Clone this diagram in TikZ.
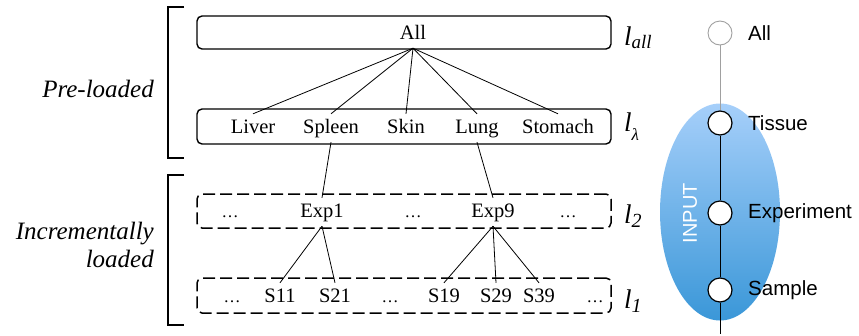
\documentclass[tikz,border=0pt]{standalone}
\usepackage{fontspec}
\setmainfont{Liberation Serif}
\setsansfont{Liberation Sans}
\usetikzlibrary{shapes.geometric}
\definecolor{ellTop}{RGB}{166,207,250}
\definecolor{ellBot}{RGB}{58,151,216}
\definecolor{grayline}{RGB}{160,160,160}
\begin{document}
\begin{tikzpicture}[x=1pt,y=-1pt,
  rowbox/.style={draw,line width=1.4pt,rounded corners=5pt,minimum width=414pt,inner sep=0pt},
  dashbox/.style={rowbox,line width=1.5pt,dash pattern=on 12pt off 5pt},
  word/.style={font=\fontsize{20.5}{20.5}\selectfont,text height=14pt,text depth=4pt,inner xsep=1pt,inner ysep=5pt,anchor=base},
  dots/.style={font=\fontsize{17}{17}\selectfont,anchor=base,inner sep=1pt},
  link/.style={line width=0.8pt},
  lvl/.style={anchor=base west,inner sep=0pt,font=\fontsize{27}{27}\selectfont\itshape},
  side/.style={font=\fontsize{25}{28}\selectfont\itshape,inner sep=0pt,align=right},
  bracket/.style={line width=1.4pt},
  circ/.style={circle,draw,line width=1.2pt,fill=white,minimum size=24pt,inner sep=0pt},
  sans/.style={font=\sffamily\fontsize{20.5}{20.5}\selectfont,anchor=west,inner sep=0pt}]
\useasboundingbox (0,0) rectangle (859,335);

% row boxes
\node[rowbox,minimum height=33pt] (rowall) at (404,32.5) {};
\node[rowbox,minimum height=35pt] (rowlam) at (404,126.5) {};
\node[dashbox,minimum height=34pt] (rowtwo) at (404,211) {};
\node[dashbox,minimum height=35pt] (rowone) at (404,295.5) {};

% words
\node[word] (all) at (413,39) {All};
\node[word] (liver) at (253,133) {Liver};
\node[word] (spleen) at (331,133) {Spleen};
\node[word] (skin) at (406,133) {Skin};
\node[word] (lung) at (477,133) {Lung};
\node[word] (stomach) at (558,133) {Stomach};

\node[dots] (d21) at (230,217) {…};
\node[word] (exp1) at (322,217) {Exp1};
\node[dots] (d22) at (413,217) {…};
\node[word] (exp9) at (493,217) {Exp9};
\node[dots] (d23) at (568,217) {…};

\node[dots] (d11) at (232,302) {…};
\node[word] (s11) at (280,302) {S11};
\node[word] (s21) at (335,302) {S21};
\node[dots] (d12) at (390,302) {…};
\node[word] (s19) at (444,302) {S19};
\node[word] (s29) at (496,302) {S29};
\node[word] (s39) at (539,302) {S39};
\node[dots] (d13) at (595,302) {…};

% connectors
\foreach \t in {liver,spleen,skin,lung,stomach}
  \draw[link] (all.south) -- (\t.north);
\draw[link] (spleen.south) -- (exp1.north);
\draw[link] (lung.south) -- (exp9.north);
\draw[link] (exp1.south) -- (s11.north);
\draw[link] (exp1.south) -- (s21.north);
\draw[link] (exp9.south) -- (s19.north);
\draw[link] (exp9.south) -- (s29.north);
\draw[link] (exp9.south) -- (s39.north);

% level labels
\node[lvl] (lall) at (624,45) {l\raisebox{-3pt}{\fontsize{19}{19}\selectfont all}};
\node[lvl] (llam) at (624,131) {l\raisebox{-9pt}{\fontsize{17}{17}\selectfont λ}};
\node[lvl] (ltwo) at (624,223) {l\raisebox{-4pt}{\fontsize{20}{20}\selectfont 2}};
\node[lvl] (lone) at (624,308) {l\raisebox{-4pt}{\fontsize{20}{20}\selectfont 1}};

% brackets and side labels
\draw[bracket] (184,7) -- (168,7) -- (168,158) -- (184,158);
\draw[bracket] (184,175) -- (168,175) -- (168,325) -- (184,325);
\node[side,anchor=base east] (pre) at (154,97) {Pre-loaded};
\node[side,anchor=east] (incr) at (154,245) {Incrementally\\loaded};

% right-hand hierarchy
\node[ellipse,minimum width=120pt,minimum height=217pt,inner sep=0pt,
      top color=ellTop,bottom color=ellBot,draw=none] (input) at (720,212) {};
\node[rotate=90,text=white,font=\sffamily\fontsize{20}{20}\selectfont,inner sep=0pt] (inputlbl) at (690,213) {INPUT};
\node[circ,draw=grayline,line width=0.9pt] (cAll) at (720,33) {};
\node[circ] (cTis) at (720,123) {};
\node[circ] (cExp) at (720,213) {};
\node[circ] (cSam) at (720,290) {};
\coordinate (cEnd) at (720,334);
\draw[grayline,line width=1pt] (cAll.south) -- (cTis.north);
\draw[line width=1pt] (cTis.south) -- (cExp.north);
\draw[line width=1pt] (cExp.south) -- (cSam.north);
\draw[line width=1pt] (cSam.south) -- (cEnd);
\node[sans] (tAll) at (748,33) {All};
\node[sans] (tTis) at (748,123) {Tissue};
\node[sans] (tExp) at (748,213) {Experiment};
\node[sans] (tSam) at (748,290) {Sample};
\end{tikzpicture}
\end{document}
